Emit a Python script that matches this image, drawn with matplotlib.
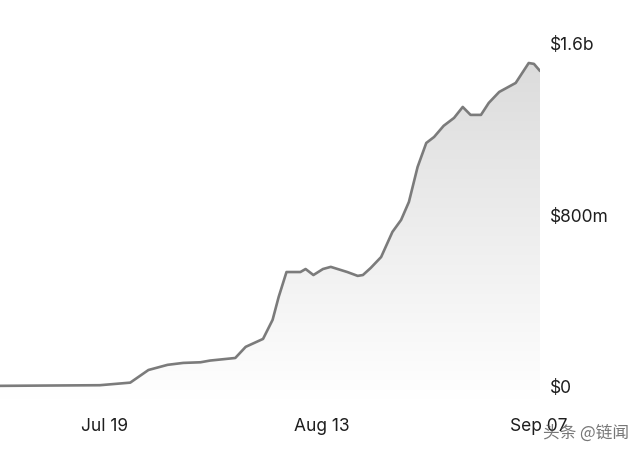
import numpy as np
import matplotlib
matplotlib.use("Agg")
import matplotlib.pyplot as plt
from matplotlib.patches import Polygon

# days relative to Jul 19, values in $ millions
days = [-12.1, -0.6, 2.9, 5.0, 7.2, 9.0, 11.0, 12.1, 15.0, 16.2, 18.2, 19.3, 20.0,
        20.9, 22.5, 23.1, 24.0, 25.1, 26.0, 27.9, 29.1, 29.7, 30.6, 31.8, 33.1,
        34.1, 35.0, 36.0, 37.0, 37.9, 39.0, 40.2, 41.2, 42.1, 43.3, 44.2, 45.4,
        47.3, 48.8, 49.4, 50.1]
values = [5, 8, 20, 79, 103, 112, 115, 123, 135, 187, 224, 313, 420,
          536, 536, 550, 522, 550, 560, 536, 518, 522, 555, 606, 723,
          779, 863, 1026, 1138, 1166, 1218, 1255, 1306, 1269, 1269, 1325, 1376,
          1418, 1511, 1507, 1474]
xtick_pos = [0, 25, 50]
xtick_labels = ["Jul 19", "Aug 13", "Sep 07"]
ytick_pos = [0, 800, 1600]
ytick_labels = ["$0", "$800m", "$1.6b"]

plt.rcParams['font.family'] = ['Inter', 'DejaVu Sans']

fig = plt.figure(figsize=(6.4, 4.54), dpi=100)
ax = fig.add_axes([0.0, 54 / 454, 540 / 640, 370 / 454])
ymin, ymax = -61, 1665
ax.set_xlim(days[0], days[-1])
ax.set_ylim(ymin, ymax)

# gradient fill under the line
grad = np.linspace(0, 1, 256).reshape(-1, 1)
img = ax.imshow(grad, extent=[days[0], days[-1], ymin, max(values)], origin='lower',
                cmap=matplotlib.colors.LinearSegmentedColormap.from_list(
                    'g', ['#ffffff', '#dcdcdc']),
                aspect='auto', zorder=1)
poly = Polygon(list(zip(days, values)) + [(days[-1], ymin), (days[0], ymin)],
               closed=True, facecolor='none', edgecolor='none')
ax.add_patch(poly)
img.set_clip_path(poly)

ax.plot(days, values, color='#7b7b7b', linewidth=1.9, zorder=3,
        solid_joinstyle='round', solid_capstyle='round')

for s in ax.spines.values():
    s.set_visible(False)
ax.set_xticks(xtick_pos)
ax.set_xticklabels(xtick_labels)
ax.set_yticks(ytick_pos)
ax.set_yticklabels(ytick_labels)
ax.yaxis.tick_right()
ax.tick_params(axis='both', length=0, labelsize=12.5, labelcolor='#1e1e1e')
ax.tick_params(axis='x', pad=13)
ax.tick_params(axis='y', pad=7)
for lab in ax.get_yticklabels():
    lab.set_horizontalalignment('left')

fig.text(0.916, 0.046, "头条 @链闻", fontsize=12, color='#555555', alpha=0.8,
         ha='center', va='center',
         family=['Noto Sans CJK SC', 'DejaVu Sans'])

fig.savefig("out.png", dpi=100)
